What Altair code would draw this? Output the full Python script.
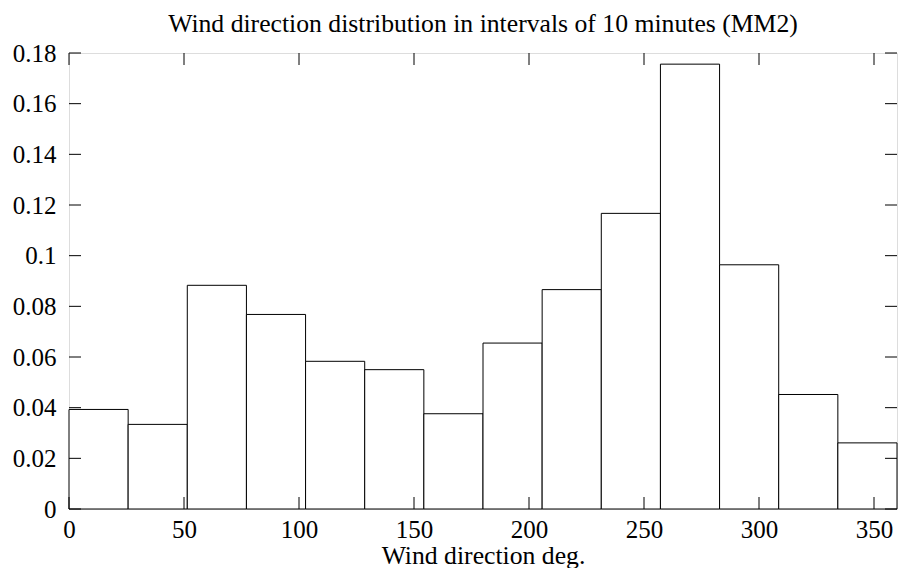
import altair as alt
import pandas as pd

# Histogram bins (14 bins over 0-360 degrees)
bin_start = [0, 25.714, 51.429, 77.143, 102.857, 128.571, 154.286,
             180, 205.714, 231.429, 257.143, 282.857, 308.571, 334.286]
bin_end = [25.714, 51.429, 77.143, 102.857, 128.571, 154.286, 180,
           205.714, 231.429, 257.143, 282.857, 308.571, 334.286, 360]
freq = [0.0393, 0.0334, 0.0883, 0.0768, 0.0583, 0.0550, 0.0376,
        0.0655, 0.0866, 0.1167, 0.1756, 0.0964, 0.0452, 0.0261]

x_ticks = [0, 50, 100, 150, 200, 250, 300, 350]
y_ticks = [0, 0.02, 0.04, 0.06, 0.08, 0.1, 0.12, 0.14, 0.16, 0.18]

FONT = "Liberation Serif"
FS = 25
TFS = 25.7
W, H = 828, 456
TICK = 12

bars_df = pd.DataFrame({"start": bin_start, "end": bin_end, "freq": freq})
xt_df = pd.DataFrame({"t": x_ticks})
yt_df = pd.DataFrame({"t": y_ticks})

xscale = alt.Scale(domain=[0, 360], nice=False, zero=False)
yscale = alt.Scale(domain=[0, 0.18], nice=False)

bars = alt.Chart(bars_df).mark_rect(
    fill="white", stroke="black", strokeWidth=1
).encode(
    x=alt.X("start:Q", scale=xscale,
            axis=alt.Axis(values=x_ticks, ticks=False, grid=False, domain=False,
                          labelFont=FONT, labelFontSize=FS, labelColor="black",
                          labelPadding=8, title="Wind direction deg.",
                          titleFont=FONT, titleFontSize=TFS, titleFontWeight="normal",
                          titleColor="black", titleBaseline="alphabetic",
                          titlePadding=21, labelFlush=False)),
    x2="end:Q",
    y=alt.Y("freq:Q", scale=yscale,
            axis=alt.Axis(values=y_ticks, ticks=False, grid=False, domain=False,
                          format="~g", labelFont=FONT, labelFontSize=FS,
                          labelColor="black", labelPadding=13, title=None,
                          labelFlush=False)),
    y2=alt.datum(0),
)

tick_bottom = alt.Chart(xt_df).mark_rule(color="black", strokeWidth=1).encode(
    x=alt.X("t:Q", scale=xscale), y=alt.value(H), y2=alt.value(H - TICK))
tick_top = alt.Chart(xt_df).mark_rule(color="black", strokeWidth=1).encode(
    x=alt.X("t:Q", scale=xscale), y=alt.value(0), y2=alt.value(TICK))
tick_left = alt.Chart(yt_df).mark_rule(color="black", strokeWidth=1).encode(
    y=alt.Y("t:Q", scale=yscale), x=alt.value(0), x2=alt.value(TICK))
tick_right = alt.Chart(yt_df).mark_rule(color="black", strokeWidth=1).encode(
    y=alt.Y("t:Q", scale=yscale), x=alt.value(W), x2=alt.value(W - TICK))

chart = alt.layer(bars, tick_bottom, tick_top, tick_left, tick_right).properties(
    width=W, height=H,
    title=alt.Title("Wind direction distribution in intervals of 10 minutes (MM2)",
                    font=FONT, fontSize=TFS, fontWeight="normal", color="black",
                    anchor="middle", offset=9, dy=6),
    autosize=alt.AutoSizeParams(type="none"),
    padding={"left": 61, "top": 45, "right": 1, "bottom": 59},
).configure_view(stroke="black", strokeWidth=1.3).configure(background="white")

chart.save("out.html", embed_options={"renderer": "svg", "actions": False})
